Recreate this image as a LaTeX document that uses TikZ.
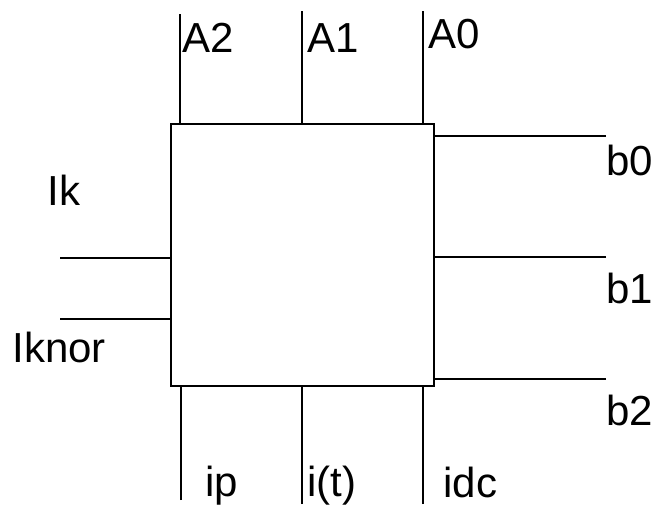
\documentclass[tikz,border=0pt]{standalone}
\usepackage{fontspec}
\setmainfont{Liberation Sans}
\newfontfamily\sigfont{Liberation Sans}
\tikzset{pin/.style={line width=0.6pt},
%labels are placed by their baseline
lbl/.style={anchor=base west, inner sep=0pt, font=\sigfont\fontsize{21}{25}\selectfont}}

\begin{document}
\begin{tikzpicture}[x=0.5pt,y=-0.5pt]

    \useasboundingbox (0,0) rectangle (651,504);

    \node[draw, line width=0.9pt, inner sep=0pt, anchor=north west,
          minimum width=131.5pt, minimum height=131pt] (blk) at (170,123) {};

    \coordinate (A2) at (180,14);
    \coordinate (A1) at (302,11);
    \coordinate (A0) at (423,11);

    \coordinate (ip)  at (181,500);
    \coordinate (it)  at (302,504);
    \coordinate (idc) at (423,504);

    \coordinate (Ik)    at (60,258);
    \coordinate (Iknor) at (60,319);

    \coordinate (b0) at (606,136);
    \coordinate (b1) at (606,257);
    \coordinate (b2) at (606,379);

    \foreach \i in {A2,A1,A0}
    \draw[pin] (\i) -- (\i |- blk.north);

    \foreach \i in {ip,it,idc}
    \draw[pin] (\i) -- (\i |- blk.south);

    \foreach \i in {Ik,Iknor}
    \draw[pin] (\i) -- (\i -| blk.west);

    \foreach \i in {b0,b1,b2}
    \draw[pin] (\i) -- (\i -| blk.east);

    \node[lbl] (tA2) at (182,52) {A2};
    \node[lbl] (tA1) at (307,52) {A1};
    \node[lbl] (tA0) at (428,48) {A0};

    \node[lbl] (tip)  at (205,496) {ip};
    \node[lbl] (tit)  at (307,496) {i(t)};
    \node[lbl] (tidc) at (443,497) {idc};

    \node[lbl] (tIk)    at (47,205) {Ik};
    \node[lbl] (tIknor) at (12,362) {Iknor};

    \node[lbl] (tb0) at (606,175) {b0};
    \node[lbl] (tb1) at (606,303) {b1};
    \node[lbl] (tb2) at (606,425) {b2};

  \end{tikzpicture}
\end{document}
